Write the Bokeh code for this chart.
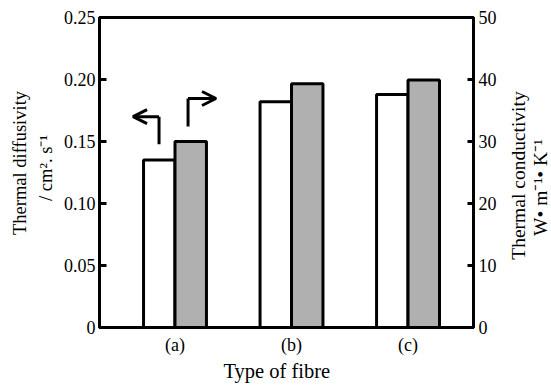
import math
from bokeh.plotting import figure
from bokeh.layouts import row, column
from bokeh.models import (Range1d, LinearAxis, FixedTicker, PrintfTickFormatter,
                          ColumnDataSource, Arrow, OpenHead)
from bokeh.core.properties import value
from bokeh.embed import file_html
from bokeh.resources import INLINE

# ---- data ----
fibre_types = ["(a)", "(b)", "(c)"]
diffusivity = [0.135, 0.182, 0.188]      # cm^2 s^-1 (left axis)
conductivity = [30.0, 39.3, 39.9]        # W m^-1 K^-1 (right axis)
left_ticks = [0, 0.05, 0.10, 0.15, 0.20, 0.25]
right_ticks = [0, 10, 20, 30, 40, 50]
left_title = ["Thermal diffusivity", "/ cm\u00b2. s\u207b\u00b9"]
right_title = ["Thermal conductivity", "W\u2022 m\u207b\u00b9\u2022 K\u207b\u00b9"]
x_title = ["Type of fibre"]

positions = [1, 2, 3]
bar_w = 0.27
FONT = "Liberation Serif"
TICK_FS = "18px"

LW, MW, RW, H = 60, 445, 46, 387
BH = 30  # height of the strip holding the x title

# ---- main chart ----
p = figure(width=MW, height=H - BH, output_backend="svg", toolbar_location=None,
           x_range=Range1d(0.352, 3.562), y_range=Range1d(0, 0.25),
           min_border_left=38, min_border_right=32, min_border_top=17,
           min_border_bottom=28)
p.extra_y_ranges = {"right": Range1d(0, 50)}
p.grid.visible = False
p.background_fill_color = "white"
p.border_fill_color = "white"
p.outline_line_color = "black"
p.outline_line_width = 3

src = ColumnDataSource(dict(
    xw=[x - bar_w / 2 for x in positions],
    xg=[x + bar_w / 2 for x in positions],
    d=diffusivity, c=conductivity))

p.vbar(x="xw", top="d", bottom=0, width=bar_w, source=src,
       fill_color="white", line_color="black", line_width=3)
p.vbar(x="xg", top="c", bottom=0, width=bar_w, source=src,
       y_range_name="right", fill_color="#b0b0b0", line_color="black",
       line_width=3)

# x axis
xa = p.xaxis[0]
xa.ticker = FixedTicker(ticks=positions)
xa.major_label_overrides = {pos: t for pos, t in zip(positions, fibre_types)}
xa.major_tick_in = 0
xa.major_tick_out = 0
xa.minor_tick_in = 0
xa.minor_tick_out = 0
xa.axis_line_width = 3
xa.major_label_standoff = 7

# left axis
ya = p.yaxis[0]
ya.ticker = FixedTicker(ticks=left_ticks)
ya.formatter = PrintfTickFormatter(format="%.2f")
ya.major_label_overrides = {0: "0"}
ya.major_tick_in = 7
ya.major_tick_out = 0
ya.minor_tick_in = 0
ya.minor_tick_out = 0
ya.axis_line_width = 3
ya.major_tick_line_width = 3
ya.major_label_standoff = 4

# right axis
ra = LinearAxis(y_range_name="right", ticker=FixedTicker(ticks=right_ticks))
ra.major_tick_in = 6
ra.major_tick_out = 0
ra.minor_tick_in = 0
ra.minor_tick_out = 0
ra.axis_line_width = 3
ra.major_tick_line_width = 3
ra.major_label_standoff = 5
p.add_layout(ra, "right")

for ax in [xa, ya, ra]:
    ax.major_label_text_font = FONT
    ax.major_label_text_font_size = TICK_FS
    ax.major_label_text_color = "black"
    ax.axis_line_color = "black"
    ax.major_tick_line_color = "black"

# arrows indicating which axis each bar belongs to
p.segment(x0=[0.863], y0=[0.1478], x1=[0.863], y1=[0.170],
          line_color="black", line_width=3)
p.add_layout(Arrow(x_start=0.863, y_start=0.170, x_end=0.64, y_end=0.170,
                   line_width=3, line_color="black",
                   end=OpenHead(size=14, line_width=3, line_color="black")))
p.segment(x0=[1.112], y0=[0.162], x1=[1.112], y1=[0.1847],
          line_color="black", line_width=3)
p.add_layout(Arrow(x_start=1.112, y_start=0.1847, x_end=1.352, y_end=0.1847,
                   line_width=3, line_color="black",
                   end=OpenHead(size=14, line_width=3, line_color="black")))


def title_panel(width, height, xs, ys, lines, size, angle, baseline):
    f = figure(width=width, height=height, output_backend="svg",
               toolbar_location=None, x_range=Range1d(0, width),
               y_range=Range1d(0, height), min_border=0)
    f.axis.visible = False
    f.grid.visible = False
    f.outline_line_color = None
    f.background_fill_color = "white"
    f.border_fill_color = "white"
    f.text(x=xs, y=ys, text=lines, angle=angle, text_align="center",
           text_baseline=baseline, text_font=value(FONT),
           text_font_size=size, text_color="black")
    return f


# positions of each title line inside its strip
pl = title_panel(LW, H, [19.5, 45.0], [H - 162.5, H - 167.5], left_title,
                 "18.5px", math.pi / 2, "alphabetic")
pr = title_panel(RW, H, [13.0, 35.0], [H - 175.0, H - 187.0], right_title,
                 "19.5px", math.pi / 2, "alphabetic")
pb = title_panel(MW, BH, [211.0], [BH - 13.0], x_title, "20.5px", 0, "middle")

layout = row(pl, column(p, pb, spacing=0), pr, spacing=0)
open("out.html", "w").write(file_html(layout, INLINE))
